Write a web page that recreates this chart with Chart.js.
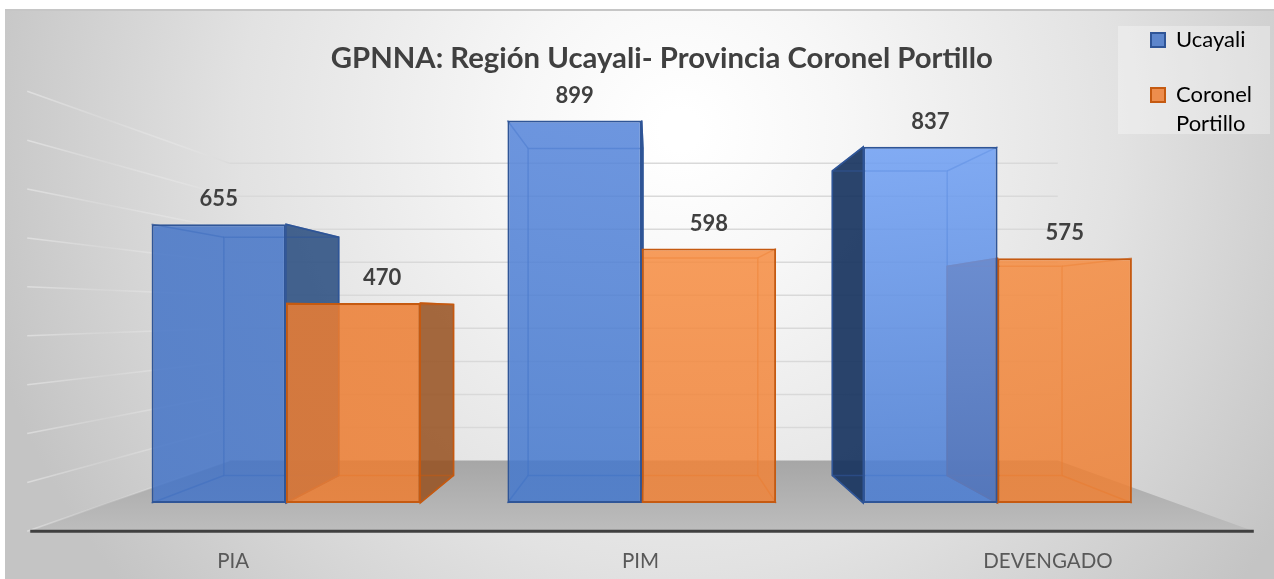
<!DOCTYPE html>
<html lang="es">
<head>
<meta charset="utf-8">
<title>GPNNA</title>
<style>html,body{margin:0;padding:0;background:#fff}canvas{display:block}</style>
<script src="https://cdn.jsdelivr.net/npm/chart.js@4/dist/chart.umd.min.js"></script>
</head>
<body>
<canvas id="c" width="1274" height="579"></canvas>
<script>
const categories = ['PIA', 'PIM', 'DEVENGADO'];
const ucayali = [655, 899, 837];
const coronelPortillo = [470, 598, 575];
const seriesNames = ['Ucayali', ['Coronel', 'Portillo']];
const chartTitle = 'GPNNA: Región Ucayali- Provincia Coronel Portillo';

const VP = {x: 650, y: 313};
const DEPTH = {box: 0.855, wall: 0.776, floor: 1.149, label: 1.145};
const project = (x, y, f) => ({x: VP.x + f * (x - VP.x), y: VP.y + f * (y - VP.y)});

const faceStops = [
  [['rgba(68,116,199,.85)', 'rgba(68,116,199,.85)'], ['rgba(84,132,218,.85)', 'rgba(67,119,204,.85)'], ['rgba(112,161,246,.85)', 'rgba(72,123,210,.85)']],
  [['rgba(237,125,49,.85)', 'rgba(237,125,49,.85)'], ['rgba(249,145,69,.85)', 'rgba(240,130,55,.85)'], ['rgba(249,145,69,.85)', 'rgba(238,128,52,.85)']]
];
const edgeColors = ['#2F5597', '#C55A11'];
const innerEdges = ['rgba(47,85,151,.6)', 'rgba(197,90,17,.55)'];
const rightSideColors = ['rgba(38,74,126,.85)', 'rgba(150,80,30,.85)'];
const leftSideColors = ['rgba(24,52,96,.92)', 'rgba(150,80,30,.85)'];
const labelShift = [[0, 0, 0], [29, 0, 0]];

function poly(ctx, pts, fill, stroke, lw) {
  ctx.beginPath();
  pts.forEach((p, i) => i ? ctx.lineTo(p.x, p.y) : ctx.moveTo(p.x, p.y));
  ctx.closePath();
  if (fill) { ctx.fillStyle = fill; ctx.fill(); }
  if (stroke) { ctx.strokeStyle = stroke; ctx.lineWidth = lw || 1; ctx.stroke(); }
}

const stage = {
  id: 'stage',
  beforeDraw(chart) {
    const {ctx, scales: {x: xs, y: ys}} = chart;
    const W = chart.width, H = chart.height;
    ctx.save();
    ctx.fillStyle = '#fff';
    ctx.fillRect(0, 0, W, H);
    const bg = ctx.createRadialGradient(680, 130, 20, 680, 130, 720);
    bg.addColorStop(0, '#ffffff');
    bg.addColorStop(0.2, '#f7f7f7');
    bg.addColorStop(0.6, '#e2e2e2');
    bg.addColorStop(1, '#c4c4c4');
    ctx.fillStyle = bg;
    ctx.fillRect(5, 9, W - 5, H - 9);
    ctx.fillStyle = '#c6c6c6';
    ctx.fillRect(5, 9, W - 5, 2);

    ctx.fillStyle = 'rgba(255,255,255,.32)';
    ctx.fillRect(1118, 26, 152, 108);

    const L = xs.left, R = xs.right, B = ys.getPixelForValue(0);
    const fl = ctx.createLinearGradient(0, project(0, B, DEPTH.wall).y, 0, project(0, B, DEPTH.floor).y);
    fl.addColorStop(0, '#a6a6a6');
    fl.addColorStop(1, '#bdbdbd');
    poly(ctx, [project(L, B, DEPTH.floor), project(R, B, DEPTH.floor), project(R, B, DEPTH.wall), project(L, B, DEPTH.wall)], fl);

    ys.ticks.forEach(t => {
      const py = ys.getPixelForValue(t.value);
      const a = project(L, py, DEPTH.floor), b = project(L, py, DEPTH.wall), c = project(R, py, DEPTH.wall);
      if (t.value > 0) {
        ctx.strokeStyle = '#d9d9d9';
        ctx.lineWidth = 1.5;
        ctx.beginPath(); ctx.moveTo(b.x, b.y); ctx.lineTo(c.x, c.y); ctx.stroke();
      }
      const g = ctx.createLinearGradient(a.x, 0, b.x, 0);
      g.addColorStop(0, 'rgba(255,255,255,.38)');
      g.addColorStop(0.4, 'rgba(255,255,255,.1)');
      g.addColorStop(1, 'rgba(217,217,217,.7)');
      ctx.strokeStyle = g;
      ctx.lineWidth = 1.5;
      ctx.beginPath(); ctx.moveTo(a.x, a.y); ctx.lineTo(b.x, b.y); ctx.stroke();
    });

    const a = project(L, B, DEPTH.floor), b = project(R, B, DEPTH.floor);
    ctx.strokeStyle = '#404040';
    ctx.lineWidth = 3;
    ctx.beginPath(); ctx.moveTo(a.x + 3, a.y); ctx.lineTo(b.x, b.y); ctx.stroke();

    ctx.fillStyle = '#595959';
    ctx.font = '20.5px Lato';
    ctx.textAlign = 'center';
    ctx.textBaseline = 'middle';
    categories.forEach((name, i) => {
      ctx.fillText(name, project(xs.getPixelForTick(i), 0, DEPTH.label).x, 561);
    });
    ctx.restore();
  },
  beforeDatasetsDraw(chart) {
    const {ctx} = chart;
    ctx.save();
    chart.data.datasets.forEach((ds, d) => {
      chart.getDatasetMeta(d).data.forEach(el => {
        const l = el.x - el.width / 2, r = el.x + el.width / 2, t = el.y, b = el.base;
        const f = DEPTH.box;
        const A = project(l, t, f), B = project(r, t, f), C = project(r, b, f), E = project(l, b, f);
        if (B.x > r) poly(ctx, [{x: r, y: t}, B, C, {x: r, y: b}], rightSideColors[d], edgeColors[d], 1.5);
        if (A.x < l) poly(ctx, [{x: l, y: t}, A, E, {x: l, y: b}], leftSideColors[d], edgeColors[d], 1.5);
        if (A.y < t) poly(ctx, [{x: l, y: t}, {x: r, y: t}, B, A], null, edgeColors[d], 1.5);
        poly(ctx, [A, B, C, E], null, innerEdges[d], 1.5);
        ctx.strokeStyle = innerEdges[d];
        ctx.lineWidth = 1.5;
        [[l, t, A], [r, t, B], [r, b, C], [l, b, E]].forEach(([x, y, p]) => {
          ctx.beginPath(); ctx.moveTo(x, y); ctx.lineTo(p.x, p.y); ctx.stroke();
        });
      });
    });
    ctx.restore();
  },
  afterDatasetsDraw(chart) {
    const {ctx} = chart;
    ctx.save();
    ctx.fillStyle = '#404040';
    ctx.font = 'bold 22px Lato';
    ctx.textAlign = 'center';
    ctx.textBaseline = 'middle';
    chart.data.datasets.forEach((ds, d) => {
      chart.getDatasetMeta(d).data.forEach((el, i) => {
        ctx.fillText(String(ds.data[i]), el.x + labelShift[d][i], el.y - 25);
      });
    });
    ctx.restore();
  },
  afterLayout(chart) {
    const lg = chart.legend;
    const w = lg.right - lg.left, h = lg.bottom - lg.top;
    lg.left = 1118; lg.right = lg.left + w;
    lg.top = -4; lg.bottom = lg.top + h;
    const tb = chart.titleBlock;
    tb.left += 20; tb.right += 20;
  }
};

const face = d => c => {
  const area = c.chart.chartArea;
  if (!area) return faceStops[d][0][0];
  const g = c.chart.ctx.createLinearGradient(0, area.top, 0, c.chart.scales.y.getPixelForValue(0));
  const s = faceStops[d][c.dataIndex];
  g.addColorStop(0, s[0]);
  g.addColorStop(1, s[1]);
  return g;
};

new Chart(document.getElementById('c'), {
  type: 'bar',
  data: {
    labels: categories,
    datasets: [
      {label: seriesNames[0], data: ucayali, backgroundColor: face(0), borderColor: edgeColors[0], borderWidth: 2, borderSkipped: false},
      {label: seriesNames[1], data: coronelPortillo, backgroundColor: face(1), borderColor: edgeColors[1], borderWidth: 2, borderSkipped: false}
    ]
  },
  plugins: [stage],
  options: {
    responsive: false,
    animation: false,
    layout: {padding: {left: 108, right: 98.5, top: 0, bottom: 76}},
    categoryPercentage: 0.755,
    barPercentage: 1,
    scales: {
      x: {display: false, grid: {display: false}},
      y: {display: false, min: 0, max: 900, ticks: {stepSize: 100}, grid: {display: false}}
    },
    plugins: {
      title: {
        display: true,
        text: chartTitle,
        color: '#404040',
        font: {family: 'Lato', size: 29.3, weight: 'bold', lineHeight: 1.2},
        padding: {top: 41.4, bottom: 43.5}
      },
      legend: {
        position: 'chartArea',
        align: 'start',
        labels: {
          color: '#595959',
          font: {family: 'Lato', size: 22, lineHeight: 1.32},
          boxWidth: 14,
          boxHeight: 14,
          padding: 33,
          generateLabels(chart) {
            return chart.data.datasets.map((ds, i) => ({
              text: ds.label,
              fillStyle: faceStops[i][0][0],
              strokeStyle: edgeColors[i],
              lineWidth: 2,
              datasetIndex: i
            }));
          }
        }
      },
      tooltip: {enabled: false}
    }
  }
});
</script>
</body>
</html>
